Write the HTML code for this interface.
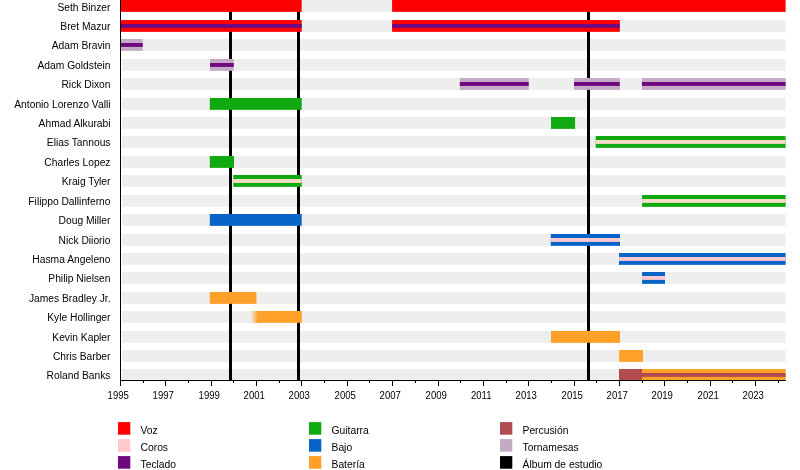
<!DOCTYPE html><html><head><meta charset="utf-8"><style>html,body{margin:0;padding:0;background:#fff;width:800px;height:470px;overflow:hidden}svg{display:block;position:absolute;left:0;top:0}svg.s{filter:blur(0.35px)}svg.t{filter:blur(0.22px)}text{font-family:"Liberation Sans",sans-serif;font-size:11px;fill:#000}</style></head><body>
<svg class="s" width="800" height="470" viewBox="0 0 800 470">
<rect x="122" y="0.00" width="663.60" height="11.85" fill="#eeeeee"/>
<rect x="122" y="20.00" width="663.60" height="11.85" fill="#eeeeee"/>
<rect x="122" y="39.00" width="663.60" height="11.85" fill="#eeeeee"/>
<rect x="122" y="59.00" width="663.60" height="11.85" fill="#eeeeee"/>
<rect x="122" y="78.00" width="663.60" height="11.85" fill="#eeeeee"/>
<rect x="122" y="98.00" width="663.60" height="11.85" fill="#eeeeee"/>
<rect x="122" y="117.00" width="663.60" height="11.85" fill="#eeeeee"/>
<rect x="122" y="136.00" width="663.60" height="11.85" fill="#eeeeee"/>
<rect x="122" y="156.00" width="663.60" height="11.85" fill="#eeeeee"/>
<rect x="122" y="175.00" width="663.60" height="11.85" fill="#eeeeee"/>
<rect x="122" y="195.00" width="663.60" height="11.85" fill="#eeeeee"/>
<rect x="122" y="214.00" width="663.60" height="11.85" fill="#eeeeee"/>
<rect x="122" y="234.00" width="663.60" height="11.85" fill="#eeeeee"/>
<rect x="122" y="253.00" width="663.60" height="11.85" fill="#eeeeee"/>
<rect x="122" y="272.00" width="663.60" height="11.85" fill="#eeeeee"/>
<rect x="122" y="292.00" width="663.60" height="11.85" fill="#eeeeee"/>
<rect x="122" y="311.00" width="663.60" height="11.85" fill="#eeeeee"/>
<rect x="122" y="331.00" width="663.60" height="11.85" fill="#eeeeee"/>
<rect x="122" y="350.00" width="663.60" height="11.85" fill="#eeeeee"/>
<rect x="122" y="369.00" width="663.60" height="11.85" fill="#eeeeee"/>
<rect x="229.0" y="0" width="3" height="380" fill="#000"/>
<rect x="297.0" y="0" width="3" height="380" fill="#000"/>
<rect x="587.0" y="0" width="3" height="380" fill="#000"/>
<rect x="121.00" y="0.00" width="180.70" height="11.85" fill="#ff0000"/>
<rect x="392.10" y="0.00" width="393.50" height="11.85" fill="#ff0000"/>
<rect x="121.00" y="20.00" width="180.70" height="11.85" fill="#ff0000"/>
<rect x="121.00" y="24.00" width="180.70" height="3.9" fill="#700880"/>
<rect x="392.10" y="20.00" width="227.70" height="11.85" fill="#ff0000"/>
<rect x="392.10" y="24.00" width="227.70" height="3.9" fill="#700880"/>
<rect x="121.00" y="39.00" width="21.75" height="11.85" fill="#c4aac4"/>
<rect x="121.00" y="43.00" width="21.75" height="3.9" fill="#700880"/>
<rect x="210.00" y="59.00" width="23.75" height="11.85" fill="#c4aac4"/>
<rect x="210.00" y="63.00" width="23.75" height="3.9" fill="#700880"/>
<rect x="459.80" y="78.00" width="68.90" height="11.85" fill="#c4aac4"/>
<rect x="459.80" y="82.00" width="68.90" height="3.9" fill="#700880"/>
<rect x="574.00" y="78.00" width="45.80" height="11.85" fill="#c4aac4"/>
<rect x="574.00" y="82.00" width="45.80" height="3.9" fill="#700880"/>
<rect x="641.90" y="78.00" width="143.70" height="11.85" fill="#c4aac4"/>
<rect x="641.90" y="82.00" width="143.70" height="3.9" fill="#700880"/>
<rect x="209.80" y="98.00" width="91.90" height="11.85" fill="#10aa10"/>
<rect x="551.00" y="117.00" width="24.10" height="11.85" fill="#10aa10"/>
<rect x="595.70" y="136.00" width="189.90" height="11.85" fill="#10aa10"/>
<rect x="595.70" y="140.00" width="189.90" height="3.9" fill="#f8dcc8"/>
<rect x="209.80" y="156.00" width="24.20" height="11.85" fill="#10aa10"/>
<rect x="233.30" y="175.00" width="68.40" height="11.85" fill="#10aa10"/>
<rect x="233.30" y="179.00" width="68.40" height="3.9" fill="#f8dcc8"/>
<rect x="642.10" y="195.00" width="143.50" height="11.85" fill="#10aa10"/>
<rect x="642.10" y="199.00" width="143.50" height="3.9" fill="#f8dcc8"/>
<rect x="209.80" y="214.00" width="91.90" height="11.85" fill="#0864c8"/>
<rect x="550.80" y="234.00" width="69.20" height="11.85" fill="#0864c8"/>
<rect x="550.80" y="238.00" width="69.20" height="3.9" fill="#ffc8cc"/>
<rect x="619.00" y="253.00" width="166.60" height="11.85" fill="#0864c8"/>
<rect x="619.00" y="257.00" width="166.60" height="3.9" fill="#ffc8cc"/>
<rect x="642.10" y="272.00" width="22.90" height="11.85" fill="#0864c8"/>
<rect x="642.10" y="276.00" width="22.90" height="3.9" fill="#ffc8cc"/>
<rect x="209.80" y="292.00" width="46.60" height="11.85" fill="#ffa028"/>
<rect x="257.20" y="311.00" width="44.60" height="11.85" fill="#ffa028"/>
<rect x="551.00" y="331.00" width="69.00" height="11.85" fill="#ffa028"/>
<rect x="619.10" y="350.00" width="23.90" height="11.85" fill="#ffa028"/>
<rect x="619.00" y="369.00" width="23.00" height="11.85" fill="#b24c50"/>
<rect x="642.00" y="369.00" width="143.60" height="11.85" fill="#ffa028"/>
<rect x="642.00" y="373.00" width="143.60" height="3.9" fill="#b24c50"/>
<defs><linearGradient id="fade" x1="0" x2="1" y1="0" y2="0"><stop offset="0" stop-color="#ffa028" stop-opacity="0.1"/><stop offset="0.5" stop-color="#ffa028" stop-opacity="0.45"/><stop offset="1" stop-color="#ffa028" stop-opacity="1"/></linearGradient></defs>
<rect x="251" y="311" width="6.4" height="11.85" fill="url(#fade)"/>
<rect x="120" y="0" width="1" height="381" fill="#000"/>
<rect x="120" y="380" width="665.88" height="1" fill="#000"/>
<rect x="120" y="380" width="1" height="6" fill="#000"/>
<rect x="143" y="380" width="1" height="3" fill="#000"/>
<rect x="165" y="380" width="1" height="6" fill="#000"/>
<rect x="188" y="380" width="1" height="3" fill="#000"/>
<rect x="211" y="380" width="1" height="6" fill="#000"/>
<rect x="233" y="380" width="1" height="3" fill="#000"/>
<rect x="256" y="380" width="1" height="6" fill="#000"/>
<rect x="279" y="380" width="1" height="3" fill="#000"/>
<rect x="301" y="380" width="1" height="6" fill="#000"/>
<rect x="324" y="380" width="1" height="3" fill="#000"/>
<rect x="347" y="380" width="1" height="6" fill="#000"/>
<rect x="369" y="380" width="1" height="3" fill="#000"/>
<rect x="392" y="380" width="1" height="6" fill="#000"/>
<rect x="415" y="380" width="1" height="3" fill="#000"/>
<rect x="438" y="380" width="1" height="6" fill="#000"/>
<rect x="460" y="380" width="1" height="3" fill="#000"/>
<rect x="483" y="380" width="1" height="6" fill="#000"/>
<rect x="506" y="380" width="1" height="3" fill="#000"/>
<rect x="528" y="380" width="1" height="6" fill="#000"/>
<rect x="551" y="380" width="1" height="3" fill="#000"/>
<rect x="574" y="380" width="1" height="6" fill="#000"/>
<rect x="596" y="380" width="1" height="3" fill="#000"/>
<rect x="619" y="380" width="1" height="6" fill="#000"/>
<rect x="642" y="380" width="1" height="3" fill="#000"/>
<rect x="664" y="380" width="1" height="6" fill="#000"/>
<rect x="687" y="380" width="1" height="3" fill="#000"/>
<rect x="710" y="380" width="1" height="6" fill="#000"/>
<rect x="732" y="380" width="1" height="3" fill="#000"/>
<rect x="755" y="380" width="1" height="6" fill="#000"/>
<rect x="778" y="380" width="1" height="3" fill="#000"/>
<rect x="118" y="422.1" width="12.3" height="12.6" fill="#ff0000"/>
<rect x="118" y="439.1" width="12.3" height="12.6" fill="#ffc8cc"/>
<rect x="118" y="456.1" width="12.3" height="12.6" fill="#700880"/>
<rect x="309" y="422.1" width="12.3" height="12.6" fill="#10aa10"/>
<rect x="309" y="439.1" width="12.3" height="12.6" fill="#0864c8"/>
<rect x="309" y="456.1" width="12.3" height="12.6" fill="#ffa028"/>
<rect x="500" y="422.1" width="12.3" height="12.6" fill="#b24c50"/>
<rect x="500" y="439.1" width="12.3" height="12.6" fill="#c4aac4"/>
<rect x="500" y="456.1" width="12.3" height="12.6" fill="#000"/>
</svg>
<svg class="t" width="800" height="470" viewBox="0 0 800 470">
<g transform="translate(118.20,399) scale(0.87,1)"><text x="0" y="0" text-anchor="middle">1995</text></g>
<g transform="translate(163.20,399) scale(0.87,1)"><text x="0" y="0" text-anchor="middle">1997</text></g>
<g transform="translate(209.20,399) scale(0.87,1)"><text x="0" y="0" text-anchor="middle">1999</text></g>
<g transform="translate(254.20,399) scale(0.87,1)"><text x="0" y="0" text-anchor="middle">2001</text></g>
<g transform="translate(299.20,399) scale(0.87,1)"><text x="0" y="0" text-anchor="middle">2003</text></g>
<g transform="translate(345.20,399) scale(0.87,1)"><text x="0" y="0" text-anchor="middle">2005</text></g>
<g transform="translate(390.20,399) scale(0.87,1)"><text x="0" y="0" text-anchor="middle">2007</text></g>
<g transform="translate(436.20,399) scale(0.87,1)"><text x="0" y="0" text-anchor="middle">2009</text></g>
<g transform="translate(481.20,399) scale(0.87,1)"><text x="0" y="0" text-anchor="middle">2011</text></g>
<g transform="translate(526.20,399) scale(0.87,1)"><text x="0" y="0" text-anchor="middle">2013</text></g>
<g transform="translate(572.20,399) scale(0.87,1)"><text x="0" y="0" text-anchor="middle">2015</text></g>
<g transform="translate(617.20,399) scale(0.87,1)"><text x="0" y="0" text-anchor="middle">2017</text></g>
<g transform="translate(662.20,399) scale(0.87,1)"><text x="0" y="0" text-anchor="middle">2019</text></g>
<g transform="translate(708.20,399) scale(0.87,1)"><text x="0" y="0" text-anchor="middle">2021</text></g>
<g transform="translate(753.20,399) scale(0.87,1)"><text x="0" y="0" text-anchor="middle">2023</text></g>
<g transform="translate(110.5,10.70) scale(0.935,1)"><text x="0" y="0" text-anchor="end">Seth Binzer</text></g>
<g transform="translate(110.5,30.00) scale(0.935,1)"><text x="0" y="0" text-anchor="end">Bret Mazur</text></g>
<g transform="translate(110.5,49.00) scale(0.935,1)"><text x="0" y="0" text-anchor="end">Adam Bravin</text></g>
<g transform="translate(110.5,69.00) scale(0.935,1)"><text x="0" y="0" text-anchor="end">Adam Goldstein</text></g>
<g transform="translate(110.5,88.00) scale(0.935,1)"><text x="0" y="0" text-anchor="end">Rick Dixon</text></g>
<g transform="translate(110.5,108.00) scale(0.935,1)"><text x="0" y="0" text-anchor="end">Antonio Lorenzo Valli</text></g>
<g transform="translate(110.5,127.00) scale(0.935,1)"><text x="0" y="0" text-anchor="end">Ahmad Alkurabi</text></g>
<g transform="translate(110.5,146.00) scale(0.935,1)"><text x="0" y="0" text-anchor="end">Elias Tannous</text></g>
<g transform="translate(110.5,166.00) scale(0.935,1)"><text x="0" y="0" text-anchor="end">Charles Lopez</text></g>
<g transform="translate(110.5,185.00) scale(0.935,1)"><text x="0" y="0" text-anchor="end">Kraig Tyler</text></g>
<g transform="translate(110.5,205.00) scale(0.935,1)"><text x="0" y="0" text-anchor="end">Filippo Dallinferno</text></g>
<g transform="translate(110.5,224.00) scale(0.935,1)"><text x="0" y="0" text-anchor="end">Doug Miller</text></g>
<g transform="translate(110.5,244.00) scale(0.935,1)"><text x="0" y="0" text-anchor="end">Nick Diiorio</text></g>
<g transform="translate(110.5,263.00) scale(0.935,1)"><text x="0" y="0" text-anchor="end">Hasma Angeleno</text></g>
<g transform="translate(110.5,282.00) scale(0.935,1)"><text x="0" y="0" text-anchor="end">Philip Nielsen</text></g>
<g transform="translate(110.5,302.00) scale(0.935,1)"><text x="0" y="0" text-anchor="end">James Bradley Jr.</text></g>
<g transform="translate(110.5,321.00) scale(0.935,1)"><text x="0" y="0" text-anchor="end">Kyle Hollinger</text></g>
<g transform="translate(110.5,341.00) scale(0.935,1)"><text x="0" y="0" text-anchor="end">Kevin Kapler</text></g>
<g transform="translate(110.5,360.00) scale(0.935,1)"><text x="0" y="0" text-anchor="end">Chris Barber</text></g>
<g transform="translate(110.5,379.00) scale(0.935,1)"><text x="0" y="0" text-anchor="end">Roland Banks</text></g>
<g transform="translate(140.5,433.8) scale(0.94,1)"><text x="0" y="0">Voz</text></g>
<g transform="translate(140.5,450.8) scale(0.94,1)"><text x="0" y="0">Coros</text></g>
<g transform="translate(140.5,467.8) scale(0.94,1)"><text x="0" y="0">Teclado</text></g>
<g transform="translate(331.5,433.8) scale(0.94,1)"><text x="0" y="0">Guitarra</text></g>
<g transform="translate(331.5,450.8) scale(0.94,1)"><text x="0" y="0">Bajo</text></g>
<g transform="translate(331.5,467.8) scale(0.94,1)"><text x="0" y="0">Batería</text></g>
<g transform="translate(522.5,433.8) scale(0.94,1)"><text x="0" y="0">Percusión</text></g>
<g transform="translate(522.5,450.8) scale(0.94,1)"><text x="0" y="0">Tornamesas</text></g>
<g transform="translate(522.5,467.8) scale(0.94,1)"><text x="0" y="0">Álbum de estudio</text></g>
</svg></body></html>
